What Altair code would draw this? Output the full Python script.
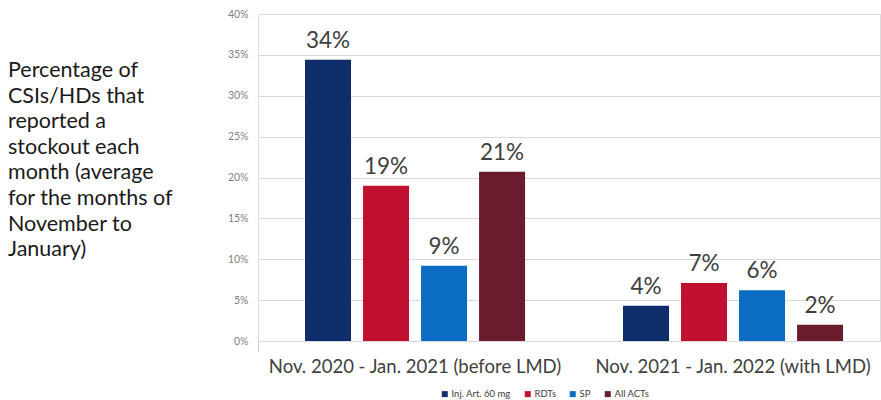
import altair as alt
import pandas as pd

periods = ["Nov. 2020 - Jan. 2021 (before LMD)", "Nov. 2021 - Jan. 2022 (with LMD)"]
products = ["Inj. Art. 60 mg", "RDTs", "SP", "All ACTs"]
before_values = [0.344, 0.190, 0.092, 0.207]
after_values = [0.043, 0.071, 0.062, 0.020]
colors = ["#0E2D6B", "#C0102F", "#0A6CC2", "#6A1B2E"]
side_text_lines = ["Percentage of", "CSIs/HDs that", "reported a", "stockout each",
                   "month (average", "for the months of", "November to", "January)"]

rows = []
for p, vals in zip(periods, [before_values, after_values]):
    for prod, v in zip(products, vals):
        rows.append({"period": p, "product": prod, "value": v})
df = pd.DataFrame(rows)

FONT = "Lato"

x = alt.X("period:N", sort=periods, title=None,
          scale=alt.Scale(paddingInner=0.308, paddingOuter=0.132, align=0.56),
          axis=alt.Axis(labelAngle=0, labelFontSize=18.5, labelColor="#404040", labelFont=FONT,
                        domainColor="#d9d9d9", ticks=False, labelLimit=0,
                        labelPadding=16, grid=False))
xo = alt.XOffset("product:N", sort=products, scale=alt.Scale(paddingInner=0.207, paddingOuter=0))
y = alt.Y("value:Q", title=None,
          scale=alt.Scale(domain=[0, 0.4], nice=False),
          axis=alt.Axis(format=".0%", values=[0, 0.05, 0.1, 0.15, 0.2, 0.25, 0.3, 0.35, 0.4],
                        labelFontSize=10.5, labelColor="#7f7f7f", labelFont=FONT, domain=False,
                        ticks=False, labelPadding=10, gridColor="#d9d9d9"))
color = alt.Color("product:N", sort=products,
                  scale=alt.Scale(domain=products, range=colors),
                  legend=alt.Legend(title=None, orient="none", direction="horizontal",
                                    legendX=182, legendY=375, symbolType="square",
                                    symbolSize=36, symbolStrokeWidth=0, labelFontSize=9.5,
                                    labelColor="#404040", labelFont=FONT, columnPadding=12,
                                    labelOffset=2))

base = alt.Chart(df)
bars = base.mark_bar().encode(x=x, xOffset=xo, y=y, color=color)
labels = base.mark_text(baseline="bottom", dy=-7, fontSize=22.5, color="#404040", font=FONT).encode(
    x=alt.X("period:N", sort=periods), xOffset=xo, y="value:Q",
    text=alt.Text("value:Q", format=".0%"))

left_tick = alt.Chart(df).mark_rule(color="#cccccc").encode(
    x=alt.value(0.5), y=alt.value(327), y2=alt.value(338))

side_df = pd.DataFrame({"t": ["\n".join(side_text_lines)]})
side = alt.Chart(side_df).mark_text(align="left", baseline="top", fontSize=21.5, lineHeight=25.6,
                                     lineBreak="\n", color="#1a1a1a", font=FONT).encode(
    x=alt.value(-250), y=alt.value(46), text="t:N")

chart = alt.layer(bars, labels, left_tick, side).properties(
    width=622, height=327,
    autosize=alt.AutoSizeParams(type="none"),
    padding={"left": 258, "top": 14, "right": 1, "bottom": 59},
).configure_view(stroke=None).configure(background="white")

chart.save("out.html", embed_options={"renderer": "svg", "actions": False})
